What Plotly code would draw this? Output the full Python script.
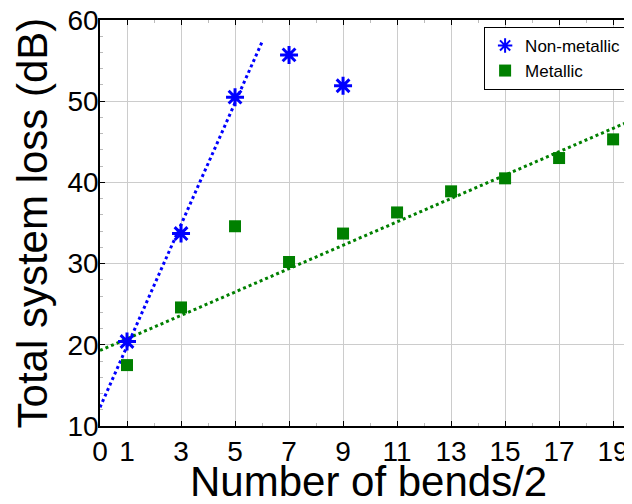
import numpy as np
import plotly.graph_objects as go

x_nonmetal = [1, 3, 5, 7, 9]
y_nonmetal = [20.4, 33.7, 50.5, 55.7, 51.9]
x_metal = [1, 3, 5, 7, 9, 11, 13, 15, 17, 19]
y_metal = [17.5, 24.6, 34.6, 30.2, 33.7, 36.3, 38.9, 40.5, 43.0, 45.3]
x_ticks = [0, 1, 3, 5, 7, 9, 11, 13, 15, 17, 19]
y_ticks = [10, 20, 30, 40, 50, 60]

# linear trend lines (slope, intercept)
fit_nonmetal = [7.5, 12.3]
fit_metal = [1.44, 19.3]
fit_x_nonmetal = [0, 6.0]
fit_x_metal = [0, 19.7]

fig = go.Figure()
fig.add_trace(go.Scatter(x=fit_x_nonmetal, y=np.polyval(fit_nonmetal, fit_x_nonmetal), mode="lines",
                         line=dict(color="blue", width=3, dash="dot"),
                         showlegend=False, hoverinfo="skip"))
fig.add_trace(go.Scatter(x=fit_x_metal, y=np.polyval(fit_metal, fit_x_metal), mode="lines",
                         line=dict(color="#008000", width=3, dash="dot"),
                         showlegend=False, hoverinfo="skip"))
fig.add_trace(go.Scatter(x=x_nonmetal, y=y_nonmetal, mode="markers", name="Non-metallic",
                         marker=dict(symbol="asterisk-open", size=15, color="blue",
                                     line=dict(color="blue", width=3))))
fig.add_trace(go.Scatter(x=x_metal, y=y_metal, mode="markers", name="Metallic",
                         marker=dict(symbol="square", size=12, color="#008000",
                                     line=dict(width=0))))

font_family = "Liberation Sans, Arial, sans-serif"
fig.update_layout(
    width=624, height=496,
    margin=dict(l=92, r=0, t=12, b=78),
    paper_bgcolor="white", plot_bgcolor="white",
    font=dict(family=font_family, color="black"),
    legend=dict(x=0.722, y=0.983, xanchor="left", yanchor="top",
                bordercolor="black", borderwidth=1, bgcolor="white",
                font=dict(size=17, family=font_family), tracegroupgap=0,
                itemsizing="constant"),
    xaxis=dict(range=[0, 19.7], tickvals=x_ticks, ticktext=[str(v) for v in x_ticks],
               automargin=False, ticklabeloverflow="allow",
               showgrid=True, gridcolor="#cccccc", gridwidth=1,
               showline=True, linecolor="black", linewidth=1.5, mirror="ticks",
               ticks="inside", ticklen=5, tickcolor="black",
               tickfont=dict(size=28), zeroline=False,
               minor=dict(dtick=1, tick0=0, ticks="inside", ticklen=3, tickcolor="#bbbbbb", showgrid=False)),
    yaxis=dict(range=[10, 60], tickvals=y_ticks,
               automargin=False, ticklabeloverflow="allow",
               showgrid=True, gridcolor="#cccccc", gridwidth=1,
               showline=True, linecolor="black", linewidth=1.5, mirror=False,
               ticks="inside", ticklen=5, tickcolor="black", ticklabelstandoff=-6,
               tickfont=dict(size=28), zeroline=False,
               minor=dict(dtick=2, tick0=10, ticks="inside", ticklen=3, tickcolor="#bbbbbb", showgrid=False)),
    annotations=[
        dict(text="Number of bends/2", xref="paper", yref="paper", x=0.5056, y=-0.136,
             xanchor="center", yanchor="middle", showarrow=False, font=dict(size=42)),
        dict(text="Total system loss (dB)", xref="paper", yref="paper", x=-0.127, y=0.5,
             xanchor="center", yanchor="middle", textangle=-90, showarrow=False, font=dict(size=42)),
    ],
)
fig.write_html("out.html")
